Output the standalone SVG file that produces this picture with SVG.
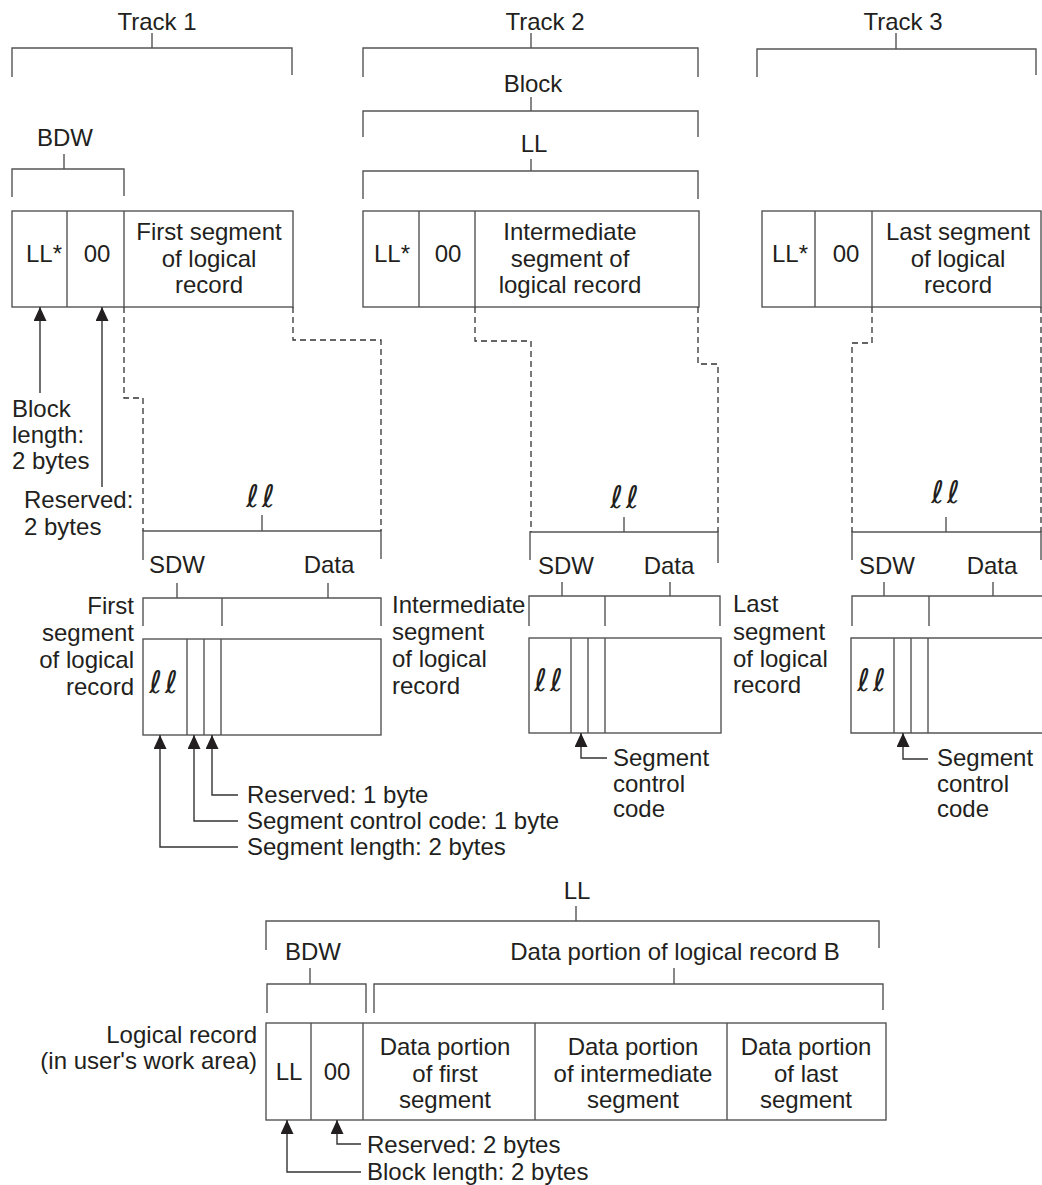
<svg xmlns="http://www.w3.org/2000/svg" width="1042" height="1185" viewBox="0 0 1042 1185">
  <style>
    text { font-family: "Liberation Sans", Arial, sans-serif; font-size: 24px; fill: #231f20; }
    .c { text-anchor: middle; }
    .r { text-anchor: end; }
    .ll { font-family: "DejaVu Serif", "DejaVu Sans", serif; font-style: italic; font-size: 31px; letter-spacing: 3px; text-anchor: middle; }
    .ln { fill: none; stroke: #555; stroke-width: 1.4; }
    .box { fill: #fff; stroke: #555; stroke-width: 1.4; }
    .dash { fill: none; stroke: #333; stroke-width: 1.3; stroke-dasharray: 6 4; }
    .arr { fill: none; stroke: #333; stroke-width: 1.4; marker-end: url(#head); }
  </style>
  <defs>
    <marker id="head" viewBox="0 0 14 13" refX="14" refY="6.5" markerWidth="14" markerHeight="13" markerUnits="userSpaceOnUse" orient="auto">
      <path d="M0,0 L14,6.5 L0,13 z" fill="#231f20"/>
    </marker>
  </defs>

  <rect width="1042" height="1185" fill="#fff"/>

  <!-- Track 1 block -->
  <g id="track1">
    <text class="c" x="157" y="30">Track 1</text>
    <path class="ln" d="M12,77 V48 H292 V75 M152,33 V48"/>
    <text class="c" x="65" y="146">BDW</text>
    <path class="ln" d="M12,197 V169 H124 V196 M64,154 V169"/>
    <rect class="box" x="12" y="211" width="281" height="96"/>
    <path class="ln" d="M67,211 V307 M124,211 V307"/>
    <text class="c" x="44" y="262">LL*</text>
    <text class="c" x="97" y="262">00</text>
    <text class="c" x="209" y="240">First segment</text>
    <text class="c" x="209" y="267">of logical</text>
    <text class="c" x="209" y="293">record</text>
    <text x="12" y="417">Block</text>
    <text x="12" y="443">length:</text>
    <text x="12" y="469">2 bytes</text>
    <text x="24" y="508">Reserved:</text>
    <text x="24" y="535">2 bytes</text>
  </g>

  <!-- Track 2 block -->
  <g id="track2">
    <text class="c" x="545" y="30">Track 2</text>
    <path class="ln" d="M363,77 V48 H698 V77 M531,33 V48"/>
    <text class="c" x="533" y="92">Block</text>
    <path class="ln" d="M363,137 V111 H698 V137 M531,97 V111"/>
    <text class="c" x="534" y="152">LL</text>
    <path class="ln" d="M363,199 V171 H698 V199 M531,159 V171"/>
    <rect class="box" x="363" y="211" width="336" height="96"/>
    <path class="ln" d="M419,211 V307 M475,211 V307"/>
    <text class="c" x="392" y="262">LL*</text>
    <text class="c" x="448" y="262">00</text>
    <text class="c" x="570" y="240">Intermediate</text>
    <text class="c" x="570" y="267">segment of</text>
    <text class="c" x="570" y="293">logical record</text>
  </g>

  <!-- Track 3 block -->
  <g id="track3">
    <text class="c" x="903" y="30">Track 3</text>
    <path class="ln" d="M757,77 V49 H1036 V75 M896,33 V49"/>
    <rect class="box" x="762" y="211" width="279" height="96"/>
    <path class="ln" d="M815,211 V307 M872,211 V307"/>
    <text class="c" x="790" y="262">LL*</text>
    <text class="c" x="846" y="262">00</text>
    <text class="c" x="958" y="240">Last segment</text>
    <text class="c" x="958" y="267">of logical</text>
    <text class="c" x="958" y="293">record</text>
  </g>

  <!-- First segment -->
  <g id="segment1">
    <text class="ll" x="262" y="507">ℓℓ</text>
    <path class="ln" d="M143,560 V531 H381 V559 M262,515 V531"/>
    <text class="c" x="177" y="573">SDW</text>
    <text class="c" x="329" y="573">Data</text>
    <path class="ln" d="M143,626 V598 H381 V626 M177,583 V598 M328,583 V598 M222,598 V626"/>
    <rect class="box" x="143" y="639" width="238" height="96"/>
    <path class="ln" d="M187,639 V735 M204,639 V735 M221,639 V735"/>
    <text class="ll" x="165" y="693">ℓℓ</text>
    <text class="r" x="134" y="614">First</text>
    <text class="r" x="134" y="641">segment</text>
    <text class="r" x="134" y="668">of logical</text>
    <text class="r" x="134" y="695">record</text>
    <text x="247" y="803">Reserved: 1 byte</text>
    <text x="247" y="829">Segment control code: 1 byte</text>
    <text x="247" y="855">Segment length: 2 bytes</text>
  </g>

  <!-- Intermediate segment -->
  <g id="segment2">
    <text class="ll" x="626" y="508">ℓℓ</text>
    <path class="ln" d="M530,560 V532 H718 V563 M624,517 V532"/>
    <text class="c" x="566" y="574">SDW</text>
    <text class="c" x="669" y="574">Data</text>
    <path class="ln" d="M529,626 V596 H720 V626 M562,582 V596 M670,582 V596 M605,596 V626"/>
    <rect class="box" x="529" y="638" width="192" height="95"/>
    <path class="ln" d="M571,638 V733 M588,638 V733 M605,638 V733"/>
    <text class="ll" x="550" y="691">ℓℓ</text>
    <text x="392" y="613">Intermediate</text>
    <text x="392" y="640">segment</text>
    <text x="392" y="667">of logical</text>
    <text x="392" y="694">record</text>
    <text x="613" y="766">Segment</text>
    <text x="613" y="792">control</text>
    <text x="613" y="817">code</text>
  </g>

  <!-- Last segment -->
  <g id="segment3">
    <text class="ll" x="947" y="503">ℓℓ</text>
    <path class="ln" d="M852,560 V532 H1041 V560 M946,517 V532"/>
    <text class="c" x="887" y="574">SDW</text>
    <text class="c" x="992" y="574">Data</text>
    <path class="ln" d="M852,626 V596 H1042 M884,582 V596 M993,582 V596 M929,596 V626"/>
    <path class="box" d="M1043,638 H851 V733 H1043"/>
    <path class="ln" d="M894,638 V733 M911,638 V733 M928,638 V733"/>
    <text class="ll" x="873" y="691">ℓℓ</text>
    <text x="733" y="612">Last</text>
    <text x="733" y="640">segment</text>
    <text x="733" y="667">of logical</text>
    <text x="733" y="693">record</text>
    <text x="937" y="766">Segment</text>
    <text x="937" y="792">control</text>
    <text x="937" y="817">code</text>
  </g>

  <!-- Logical record in the work area -->
  <g id="logical-record">
    <text class="c" x="577" y="899">LL</text>
    <path class="ln" d="M266,950 V921 H879 V948 M576,906 V921"/>
    <text class="c" x="313" y="960">BDW</text>
    <path class="ln" d="M267,1013 V984 H366 V1013 M310,968 V984"/>
    <text class="c" x="675" y="960">Data portion of logical record B</text>
    <path class="ln" d="M374,1013 V984 H883 V1010 M674,968 V984"/>
    <rect class="box" x="266" y="1023" width="620" height="97"/>
    <path class="ln" d="M311,1023 V1120 M363,1023 V1120 M535,1023 V1120 M727,1023 V1120"/>
    <text class="c" x="289" y="1080">LL</text>
    <text class="c" x="337" y="1080">00</text>
    <text class="c" x="445" y="1055">Data portion</text>
    <text class="c" x="445" y="1082">of first</text>
    <text class="c" x="445" y="1108">segment</text>
    <text class="c" x="633" y="1055">Data portion</text>
    <text class="c" x="633" y="1082">of intermediate</text>
    <text class="c" x="633" y="1108">segment</text>
    <text class="c" x="806" y="1055">Data portion</text>
    <text class="c" x="806" y="1082">of last</text>
    <text class="c" x="806" y="1108">segment</text>
    <text class="r" x="257" y="1043">Logical record</text>
    <text class="r" x="257" y="1069">(in user's work area)</text>
    <text x="367" y="1153">Reserved: 2 bytes</text>
    <text x="367" y="1180">Block length: 2 bytes</text>
  </g>

  <!-- Connectors: dashed mapping lines and pointer arrows -->
  <g id="connectors">
    <path class="dash" d="M124,307 V398 H143 V531"/>
    <path class="dash" d="M293,307 V340 H381 V531"/>
    <path class="dash" d="M475,307 V341 H531 V532"/>
    <path class="dash" d="M698,307 V364 H718 V532"/>
    <path class="dash" d="M872,307 V343 H852 V532"/>
    <path class="dash" d="M1041,307 V532"/>
    <path class="arr" d="M40,393 V307"/>
    <path class="arr" d="M102,487 V307"/>
    <path class="arr" d="M238,795 H212 V735"/>
    <path class="arr" d="M238,821 H194 V735"/>
    <path class="arr" d="M238,847 H160 V735"/>
    <path class="arr" d="M607,758 H581 V733"/>
    <path class="arr" d="M928,759 H903 V733"/>
    <path class="arr" d="M361,1144 H337 V1120"/>
    <path class="arr" d="M361,1172 H287 V1120"/>
  </g>
</svg>
